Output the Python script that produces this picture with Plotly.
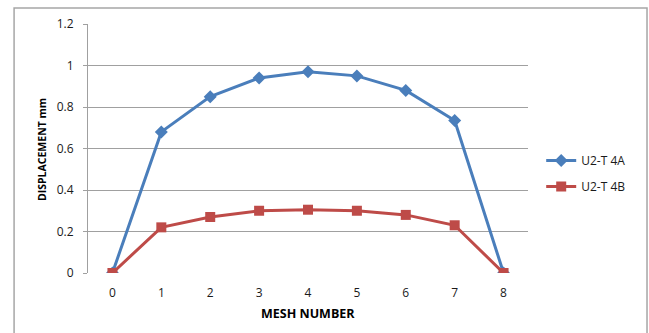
import plotly.graph_objects as go

mesh = [0, 1, 2, 3, 4, 5, 6, 7, 8]
u2_t4a = [0, 0.68, 0.85, 0.94, 0.97, 0.95, 0.88, 0.735, 0]
u2_t4b = [0, 0.22, 0.27, 0.30, 0.305, 0.30, 0.28, 0.23, 0]
y_ticks = [0, 0.2, 0.4, 0.6, 0.8, 1, 1.2]
y_tick_labels = ["0", "0.2", "0.4", "0.6", "0.8", "1", "1.2"]

FONT = "'Open Sans', sans-serif"
BLUE = "#4A7EBB"
RED = "#BE4B48"
GRID = "#A0A0A0"
TXT = "#1A1A1A"

fig = go.Figure()
fig.add_trace(go.Scatter(
    x=mesh, y=u2_t4a, name="U2-T 4A", mode="lines+markers", legendgroup="a",
    line=dict(color=BLUE, width=3),
    marker=dict(symbol="diamond", size=10, color=BLUE),
))
fig.add_trace(go.Scatter(
    x=mesh, y=u2_t4b, name="U2-T 4B", mode="lines+markers", legendgroup="b",
    line=dict(color=RED, width=3),
    marker=dict(symbol="square", size=10, color=RED),
))

fig.update_layout(
    width=649, height=333,
    margin=dict(l=88, r=121, t=24, b=60),
    paper_bgcolor="white", plot_bgcolor="white",
    font=dict(family=FONT, size=12, color=TXT),
    showlegend=True,
    legend=dict(x=1.03, y=0.40, xanchor="left", yanchor="middle",
                font=dict(family=FONT, size=12, color=TXT),
                traceorder="grouped", tracegroupgap=7,
                bgcolor="rgba(0,0,0,0)"),
    xaxis=dict(
        range=[-0.5, 8.5], tickmode="array", tickvals=mesh,
        ticktext=[str(m) for m in mesh],
        showgrid=False, zeroline=False, showline=False,
        ticks="", ticklen=0, ticklabelstandoff=11,
        tickfont=dict(family=FONT, size=12, color=TXT),
    ),
    yaxis=dict(
        range=[0, 1.2], tickmode="array", tickvals=y_ticks,
        ticktext=y_tick_labels,
        showgrid=True, gridcolor=GRID, gridwidth=1,
        zeroline=False, showline=True, linecolor=GRID, linewidth=1,
        ticks="outside", ticklen=4, tickcolor=GRID, ticklabelstandoff=7,
        tickfont=dict(family=FONT, size=12, color=TXT),
    ),
)

# axis titles
fig.add_annotation(text="<b>DISPLACEMENT mm</b>", textangle=-90,
                   xref="paper", yref="paper", x=-0.1045, y=0.494,
                   xanchor="center", yanchor="middle",
                   showarrow=False, font=dict(family=FONT, size=10.5, color="#000000"))
fig.add_annotation(text="<b>MESH NUMBER</b>",
                   xref="paper", yref="paper", x=0.5, y=-0.161,
                   xanchor="center", yanchor="middle",
                   showarrow=False, font=dict(family=FONT, size=12.5, color="#000000"))

# chart outer border
fig.add_shape(type="rect", xref="paper", yref="paper",
              x0=-0.168, x1=1.2705, y0=-0.5, y1=1.064,
              line=dict(color="#A6A6A6", width=1.5), layer="below")

fig.write_html("out.html",
               config={"displayModeBar": False},
               post_script="document.body.style.margin='0';document.body.style.overflow='hidden';")
